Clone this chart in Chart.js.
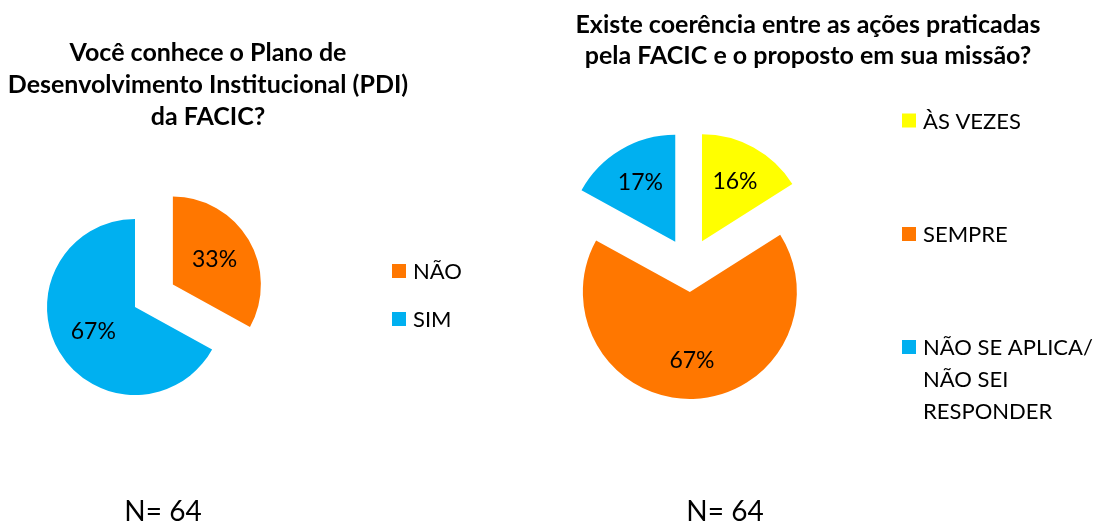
<!DOCTYPE html>
<html>
<head>
<meta charset="utf-8">
<script src="https://cdn.jsdelivr.net/npm/chart.js@4"></script>
<style>
  body { margin: 0; background: #fff; }
  #wrap { position: relative; width: 1100px; height: 524px; }
  canvas { position: absolute; top: 0; }
</style>
</head>
<body>
<div id="wrap">
  <canvas id="pdi" width="550" height="524" style="left:0"></canvas>
  <canvas id="coerencia" width="550" height="524" style="left:550px"></canvas>
</div>
<script>
var pdiTitle = ['Você conhece o Plano de', 'Desenvolvimento Institucional (PDI)', 'da FACIC?'];
var pdiLabels = ['NÃO', 'SIM'];
var pdiValues = [33, 67];
var pdiColors = ['#FF7700', '#00B0F0'];

var coerTitle = ['Existe coerência entre as ações praticadas', 'pela FACIC e o proposto em sua missão?'];
var coerLabels = ['ÀS VEZES', 'SEMPRE', ['NÃO SE APLICA/', 'NÃO SEI', 'RESPONDER']];
var coerValues = [16, 67, 17];
var coerColors = ['#FFFF00', '#FF7700', '#00B0F0'];

var sampleSize = 64;
var FONT = 'Lato, "Open Sans", sans-serif';

// v4 arcs grow their radius (and trim their angle) when offset is used;
// undo that so every exploded slice keeps the same radius, like Excel
var keepRadius = {
  id: 'keepRadius',
  afterDatasetsUpdate: function(chart) {
    chart.getDatasetMeta(0).data.forEach(function(arc) {
      var off = (arc.options.offset || 0) / 4;
      var circ = arc.endAngle - arc.startAngle;
      var fix = 1 - Math.sin(Math.min(Math.PI, circ));
      var ro = off * fix;
      var R = arc.outerRadius;
      arc.$fullRadius = R;
      arc.outerRadius = R - ro;
      var trim = (ro / Math.PI) / R / 2;
      arc.startAngle -= trim;
      arc.endAngle += trim;
    });
  }
};

var sliceLabels = {
  id: 'sliceLabels',
  afterDatasetsDraw: function(chart, args, opts) {
    var ctx = chart.ctx;
    var ds = chart.data.datasets[0];
    var total = ds.data.reduce(function(a, b) { return a + b; }, 0);
    ctx.save();
    ctx.font = '23px ' + FONT;
    ctx.fillStyle = '#000';
    ctx.textAlign = 'center';
    ctx.textBaseline = 'middle';
    chart.getDatasetMeta(0).data.forEach(function(arc, i) {
      var mid = (arc.startAngle + arc.endAngle) / 2;
      var d = (arc.options.offset || 0) / 4 + opts.at * arc.$fullRadius;
      var txt = Math.round(ds.data[i] / total * 100) + '%';
      ctx.fillText(txt, arc.x + Math.cos(mid) * d, arc.y + Math.sin(mid) * d);
    });
    ctx.restore();
  }
};

var textLayer = {
  id: 'textLayer',
  afterDraw: function(chart, args, opts) {
    var ctx = chart.ctx;
    ctx.save();
    ctx.fillStyle = '#000';
    ctx.textBaseline = 'alphabetic';

    ctx.font = 'bold 25px ' + FONT;
    ctx.textAlign = 'center';
    opts.title.forEach(function(line, i) {
      ctx.fillText(line, opts.titleX, opts.titleY + i * opts.titleStep);
    });

    var colors = chart.data.datasets[0].backgroundColor;
    ctx.font = '22px ' + FONT;
    ctx.textAlign = 'left';
    chart.data.labels.forEach(function(lab, i) {
      var y = opts.legendY[i];
      ctx.fillStyle = colors[i];
      ctx.fillRect(opts.legendX, y - 7, 14, 14);
      ctx.fillStyle = '#000';
      [].concat(lab).forEach(function(t, j) {
        ctx.fillText(t, opts.legendX + 21, y + 8 + j * 32);
      });
    });

    ctx.font = '28px ' + FONT;
    ctx.textAlign = 'center';
    ctx.fillText('N= ' + sampleSize, opts.nX, 521);
    ctx.restore();
  }
};

function makePie(id, labels, values, colors, offsets, padding, labelAt, radius, text) {
  return new Chart(document.getElementById(id), {
    type: 'pie',
    data: {
      labels: labels,
      datasets: [{
        data: values,
        backgroundColor: colors,
        borderWidth: 0,
        offset: offsets,
        hoverOffset: 0,
        clip: false
      }]
    },
    options: {
      responsive: false,
      animation: false,
      radius: radius,
      layout: { padding: padding },
      events: [],
      plugins: {
        legend: { display: false },
        tooltip: { enabled: false },
        title: { display: false },
        sliceLabels: { at: labelAt },
        textLayer: text
      }
    },
    plugins: [keepRadius, sliceLabels, textLayer]
  });
}

makePie('pdi', pdiLabels, pdiValues, pdiColors, [176, 0],
  { left: 5, right: 285, top: 177, bottom: 87 }, 0.55, 88,
  { title: pdiTitle, titleX: 208, titleY: 61, titleStep: 32,
    legendX: 392, legendY: [271, 319], nX: 163 });

makePie('coerencia', coerLabels, coerValues, coerColors, 108,
  { left: 9, right: 281, top: 135, bottom: 129 }, 0.64, 107,
  { title: coerTitle, titleX: 258, titleY: 33, titleStep: 31,
    legendX: 352, legendY: [120.5, 234, 347], nX: 175 });
</script>
</body>
</html>
